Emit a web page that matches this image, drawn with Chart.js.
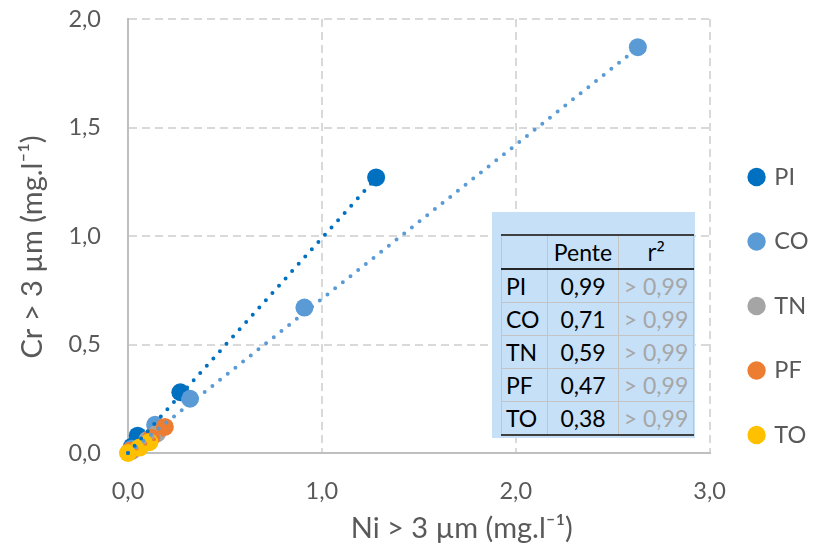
<!DOCTYPE html>
<html><head><meta charset="utf-8">
<script src="https://cdn.jsdelivr.net/npm/chart.js@4"></script>
<style>
html,body{margin:0;padding:0;background:#fff;}
#wrap{position:relative;width:821px;height:547px;}
#box{position:absolute;left:492px;top:212px;width:203px;height:226px;background:#c6e0f8;}
#tbl{position:absolute;left:9px;top:22px;border-collapse:collapse;font-family:Lato,"Open Sans",sans-serif;font-size:23px;color:#000;}
#tbl td,#tbl th{padding:0;border-left:1px solid #c4c4c4;border-right:1px solid #c4c4c4;border-bottom:1px solid #c4c4c4;font-weight:normal;line-height:1;}
#tbl thead tr{border-top:2px solid #404040;}
#tbl thead th{height:32px;border-bottom:2px solid #262626;color:#000;}
#tbl tbody td{height:32px;}
#tbl tbody tr:last-child td{border-bottom:2px solid #404040;}
#tbl .c1{width:41px;text-align:left;padding-left:4px;}
#tbl .c2{width:70px;text-align:center;}
#tbl .c3{width:74px;text-align:center;}
#tbl tbody .c3{color:#a6a6a6;}
#tbl .sup{font-family:"Open Sans",sans-serif;}
</style>
</head><body>
<div id="wrap">
<canvas id="c" width="821" height="547"></canvas>
<div id="box"><table id="tbl"><thead><tr id="hdr"></tr></thead><tbody id="tb"></tbody></table></div>
</div>
<script>
// ---- data ----
const seriesNames = ['PI', 'CO', 'TN', 'PF', 'TO'];
const seriesColors = ['#0070C0', '#5B9BD5', '#A5A5A5', '#ED7D31', '#FFC000'];
const piX = [0.02, 0.05, 0.27, 1.28];
const piY = [0.03, 0.08, 0.28, 1.27];
const coX = [0.02, 0.14, 0.32, 0.91, 2.63];
const coY = [0.02, 0.13, 0.25, 0.67, 1.87];
const tnX = [0.02, 0.10, 0.15];
const tnY = [0.01, 0.06, 0.09];
const pfX = [0.01, 0.12, 0.19];
const pfY = [0.01, 0.07, 0.12];
const toX = [0.00, 0.06, 0.11];
const toY = [0.00, 0.025, 0.05];
const slopes = [0.99, 0.71, 0.59, 0.47, 0.38];
const slopeLabels = ['0,99', '0,71', '0,59', '0,47', '0,38'];
const r2Labels = ['> 0,99', '> 0,99', '> 0,99', '> 0,99', '> 0,99'];
const tableHeader = ['', 'Pente', 'r²'];
const xTickValues = [0, 1, 2, 3];
const xTickLabels = ['0,0', '1,0', '2,0', '3,0'];
const yTickValues = [0, 0.5, 1, 1.5, 2];
const yTickLabels = ['0,0', '0,5', '1,0', '1,5', '2,0'];
const xTitle = 'Ni > 3 µm (mg.l⁻¹)';
const yTitle = 'Cr > 3 µm (mg.l⁻¹)';

// ---- table ----
const hdr = document.getElementById('hdr');
tableHeader.forEach((h, i) => { const th = document.createElement('th'); th.className = 'c' + (i + 1) + (i === 2 ? ' sup' : ''); th.textContent = h; hdr.appendChild(th); });
const tb = document.getElementById('tb');
seriesNames.forEach((n, i) => {
  const tr = document.createElement('tr');
  [n, slopeLabels[i], r2Labels[i]].forEach((t, j) => { const td = document.createElement('td'); td.className = 'c' + (j + 1); td.textContent = t; tr.appendChild(td); });
  tb.appendChild(tr);
});

// ---- chart ----
const xs = [piX, coX, tnX, pfX, toX];
const ys = [piY, coY, tnY, pfY, toY];
const pts = (a, b) => a.map((v, i) => ({ x: v, y: b[i] }));
const datasets = [];
seriesNames.forEach((n, i) => {
  datasets.push({
    type: 'scatter', label: n, data: pts(xs[i], ys[i]),
    backgroundColor: seriesColors[i], borderColor: seriesColors[i], borderWidth: 0,
    pointRadius: 9, pointHoverRadius: 9, pointStyle: 'circle', order: 5 - i + 1, clip: false
  });
});
seriesNames.forEach((n, i) => {
  const mx = Math.max(...xs[i]);
  datasets.push({
    type: 'line', label: n + ' trend', data: [{ x: 0, y: 0 }, { x: mx, y: slopes[i] * mx }],
    borderColor: seriesColors[i], borderWidth: 4, borderDash: [0, 9.8], borderCapStyle: 'round',
    pointRadius: 0, fill: false, order: 0, clip: false
  });
});
const FONT = 'Lato';
const TITLE_FONT = '29px Lato';
const lbl = (vals, labels) => (v) => { const k = vals.findIndex(t => Math.abs(t - v) < 1e-9); return k >= 0 ? labels[k] : ''; };

// axis titles (placed like the reference, slightly off-centre)
const axisTitles = {
  id: 'axisTitles',
  afterDraw(chart) {
    const { ctx, chartArea: a } = chart;
    ctx.save();
    ctx.fillStyle = '#595959';
    ctx.font = TITLE_FONT;
    ctx.textAlign = 'center';
    ctx.textBaseline = 'alphabetic';
    ctx.fillText(xTitle, (a.left + a.right) / 2 + 43, a.bottom + 85);
    ctx.translate(a.left - 86, (a.top + a.bottom) / 2 + 11);
    ctx.rotate(-Math.PI / 2);
    ctx.fillText(yTitle, 0, 0);
    ctx.restore();
  }
};

new Chart(document.getElementById('c'), {
  data: { datasets },
  plugins: [axisTitles],
  options: {
    responsive: false, animation: false, devicePixelRatio: 1,
    layout: { padding: { top: 19, right: 2.5, bottom: 0, left: 0 } },
    plugins: {
      tooltip: { enabled: false },
      legend: {
        position: 'right', align: 'start',
        title: { display: true, text: ' ', font: { size: 12, lineHeight: 1 }, padding: { top: 93.25, bottom: 0 } },
        labels: {
          usePointStyle: true, boxWidth: 12, boxHeight: 13, padding: 41, color: '#595959',
          font: { family: FONT, size: 23.5 },
          filter: (it) => it.datasetIndex < 5,
          sort: (a, b) => a.datasetIndex - b.datasetIndex
        }
      }
    },
    scales: {
      x: {
        type: 'linear', min: 0, max: 3,
        afterFit: (s) => { s.height = 94; },
        ticks: { stepSize: 1, padding: 24, color: '#595959', font: { family: FONT, size: 23.5 }, callback: lbl(xTickValues, xTickLabels) },
        grid: { color: (c) => (c.tick && c.tick.value === 0) ? 'rgba(0,0,0,0)' : '#d9d9d9', lineWidth: 2, drawTicks: false },
        border: { display: true, color: '#bfbfbf', width: 2, dash: [8, 5] }
      },
      y: {
        type: 'linear', min: 0, max: 2,
        afterFit: (s) => { s.width = 128; s.paddingTop = 0; s.paddingBottom = 0; },
        ticks: { stepSize: 0.5, padding: 27, color: '#595959', font: { family: FONT, size: 23.5 }, callback: lbl(yTickValues, yTickLabels) },
        grid: { color: (c) => (c.tick && c.tick.value === 0) ? 'rgba(0,0,0,0)' : '#d9d9d9', lineWidth: 2, drawTicks: false },
        border: { display: true, color: '#bfbfbf', width: 2, dash: [8, 5] }
      }
    }
  }
});
</script>
</body></html>
